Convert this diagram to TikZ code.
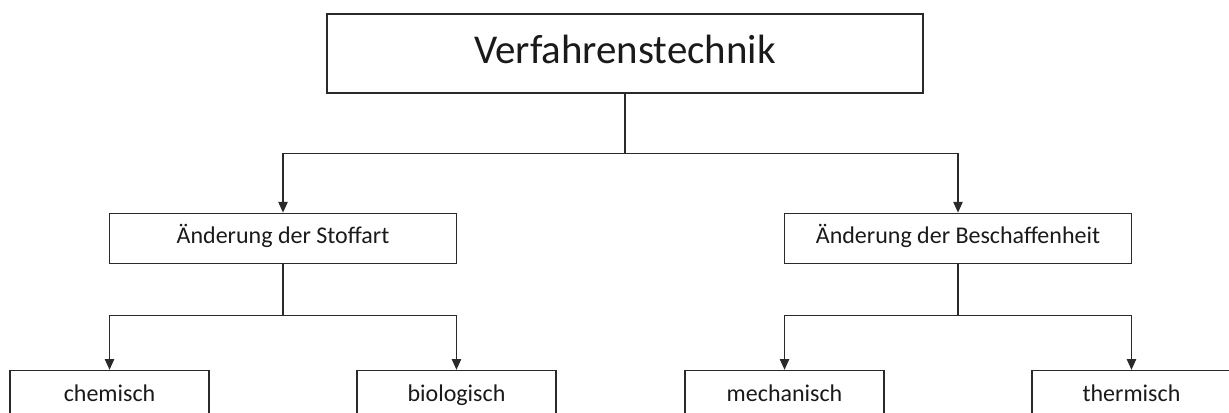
\documentclass[tikz,border=0pt]{standalone}
\usepackage{fontspec}
\setmainfont{Carlito}
\usetikzlibrary{arrows.meta,positioning}
\definecolor{boxline}{HTML}{2A2A2A}
\definecolor{txtdark}{HTML}{1A1A1A}

\begin{document}
\begin{tikzpicture}[
  box/.style={draw=boxline, line width=0.9pt, minimum height=37.5pt, inner sep=0pt, text=txtdark, text height=12.5pt, text depth=4pt, font=\fontsize{18}{20}\selectfont},
  midbox/.style={box, minimum width=260.25pt},
  leafbox/.style={box, minimum width=149.25pt},
  arr/.style={-{Triangle[length=8pt, width=7pt]}, line width=0.85pt, draw=boxline},
]
  \useasboundingbox (0,0) rectangle (921.75pt,-309pt);
  \clip (0,0) rectangle (921.75pt,-309pt);

  % Root
  \node[box, minimum width=447pt, minimum height=59.25pt, text height=21pt, text depth=6pt, font=\fontsize{30.7}{34}\selectfont] (root) at (468.75pt,-40.125pt) {Verfahrenstechnik};

  % Level 1
  \node[midbox, below=89.25pt of root, xshift=-256.5pt] (stoffart) {Änderung der Stoffart};
  \node[midbox, below=89.25pt of root, xshift=249.75pt] (beschaff) {Änderung der Beschaffenheit};
  \draw[arr] (root.south) -- ++(0,-45pt) -| (stoffart);
  \draw[arr] (root.south) -- ++(0,-45pt) -| (beschaff);

  % Level 2
  \node[leafbox, below=79.5pt of stoffart, xshift=-130.1pt] (chem) {chemisch};
  \node[leafbox, below=79.5pt of stoffart, xshift=130.1pt] (bio) {biologisch};
  \node[leafbox, below=79.5pt of beschaff, xshift=-130.1pt] (mech) {mechanisch};
  \node[leafbox, below=79.5pt of beschaff, xshift=130.1pt] (therm) {thermisch};
  \draw[arr] (stoffart.south) -- ++(0,-39pt) -| (chem);
  \draw[arr] (stoffart.south) -- ++(0,-39pt) -| (bio);
  \draw[arr] (beschaff.south) -- ++(0,-39pt) -| (mech);
  \draw[arr] (beschaff.south) -- ++(0,-39pt) -| (therm);
\end{tikzpicture}
\end{document}
